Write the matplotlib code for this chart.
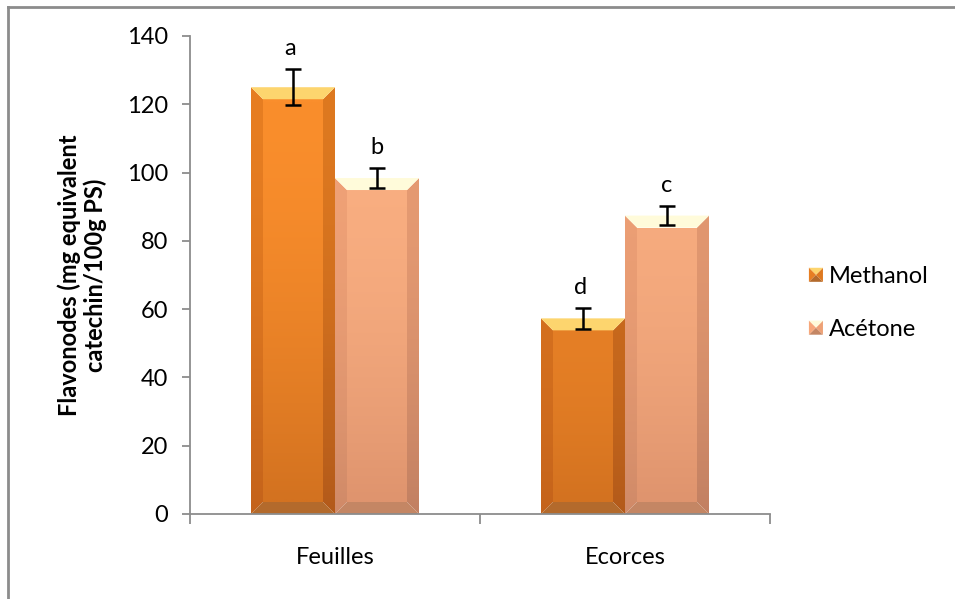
import numpy as np
import matplotlib.pyplot as plt
from matplotlib.patches import Polygon
from matplotlib.legend_handler import HandlerBase
from matplotlib.colors import to_rgb
from matplotlib.lines import Line2D

# Data
categories = ['Feuilles', 'Ecorces']
series_names = ['Methanol', 'Acétone']
methanol = [125.0, 57.3]
methanol_err = [5.3, 3.0]
acetone = [98.4, 87.4]
acetone_err = [3.0, 2.9]
letters_methanol = ['a', 'd']
letters_acetone = ['b', 'c']

# Bevel colour sets: face top/bottom, side strips top/bottom, top bevel, bottom bevel
STYLES = {
    'Methanol': dict(face_top='#FA8E2C', face_bot='#D37220', left_top='#E77E22', left_bot='#C4631B',
                     right_top='#DE7920', right_bot='#B35A1A', top='#FDD56E', bottom='#B36A2C'),
    'Acétone': dict(face_top='#FFB485', face_bot='#DF946E', left_top='#F7A77A', left_bot='#D08A68',
                    right_top='#EEA176', right_bot='#C28062', top='#FFFBDA', bottom='#C48664'),
}

plt.rcParams['font.family'] = ['Lato', 'DejaVu Sans']


def gradient_poly(ax, verts, c_top, c_bot, zorder=2):
    """Fill a polygon with a vertical gradient."""
    verts = np.asarray(verts)
    poly = Polygon(verts, closed=True, facecolor='none', edgecolor='none', transform=ax.transData)
    ax.add_patch(poly)
    t = np.linspace(0, 1, 64)[:, None] ** 1.6
    top = np.array(to_rgb(c_top))
    bot = np.array(to_rgb(c_bot))
    img = (1 - t)[:, :, None] * top + t[:, :, None] * bot
    img = np.repeat(img, 2, axis=1)
    x0, x1 = verts[:, 0].min(), verts[:, 0].max()
    y0, y1 = verts[:, 1].min(), verts[:, 1].max()
    im = ax.imshow(img, extent=[x0, x1, y0, y1], origin='upper', aspect='auto',
                   interpolation='bilinear', zorder=zorder)
    im.set_clip_path(poly)


def bevel_bar(ax, xc, width, height, style, bx, by):
    s = STYLES[style]
    x0, x1 = xc - width / 2, xc + width / 2
    f = min(1.0, height / 125.0)
    mix = lambda a, b: tuple((1 - f) * np.array(to_rgb(a)) + f * np.array(to_rgb(b)))
    # main face
    gradient_poly(ax, [(x0 + bx, by), (x1 - bx, by), (x1 - bx, height - by), (x0 + bx, height - by)],
                  mix(s['face_bot'], s['face_top']), s['face_bot'])
    # sides
    gradient_poly(ax, [(x0, 0), (x0 + bx, by), (x0 + bx, height - by), (x0, height)],
                  mix(s['left_bot'], s['left_top']), s['left_bot'])
    gradient_poly(ax, [(x1, 0), (x1 - bx, by), (x1 - bx, height - by), (x1, height)],
                  mix(s['right_bot'], s['right_top']), s['right_bot'])
    # top and bottom bevels
    ax.add_patch(Polygon([(x0, height), (x1, height), (x1 - bx, height - by), (x0 + bx, height - by)],
                         closed=True, facecolor=s['top'], edgecolor='none', zorder=2))
    ax.add_patch(Polygon([(x0, 0), (x1, 0), (x1 - bx, by), (x0 + bx, by)],
                         closed=True, facecolor=s['bottom'], edgecolor='none', zorder=2))


class PyramidHandler(HandlerBase):
    def __init__(self, style):
        super().__init__()
        self.style = style

    def create_artists(self, legend, orig_handle, xdescent, ydescent, width, height, fontsize, trans):
        s = STYLES[self.style]
        size = height * 0.85
        x0 = xdescent + width - size
        y0 = -ydescent + (height - size) / 2
        cx, cy = x0 + size / 2, y0 + size / 2
        corners = [(x0, y0), (x0 + size, y0), (x0 + size, y0 + size), (x0, y0 + size)]
        cols = [s['bottom'], s['right_top'], s['top'], s['left_top']]
        arts = []
        for i in range(4):
            p = Polygon([corners[i], corners[(i + 1) % 4], (cx, cy)], closed=True,
                        facecolor=cols[i], edgecolor='none', transform=trans)
            arts.append(p)
        return arts


fig = plt.figure(figsize=(9.55, 5.99), dpi=100)
ax = fig.add_axes([190 / 955, 1 - 514 / 599, 580 / 955, 478 / 599])
ax.set_xlim(-0.5, 1.5)
ax.set_ylim(0, 140)

# bevel size in data units (about 12 px)
px_x = 580 / 2.0
px_y = 478 / 140.0
bx = 12 / px_x
by = 12 / px_y

width = 84 / px_x
x = np.arange(len(categories))
for i in range(len(categories)):
    bevel_bar(ax, x[i] - width / 2, width, methanol[i], 'Methanol', bx, by)
    bevel_bar(ax, x[i] + width / 2, width, acetone[i], 'Acétone', bx, by)

ax.errorbar(x - width / 2, methanol, yerr=methanol_err, fmt='none', ecolor='black',
            elinewidth=1.8, capsize=5.5, capthick=1.8, zorder=5)
ax.errorbar(x + width / 2, acetone, yerr=acetone_err, fmt='none', ecolor='black',
            elinewidth=1.8, capsize=5.5, capthick=1.8, zorder=5)

for i in range(len(categories)):
    ax.annotate(letters_methanol[i], (x[i] - width / 2, methanol[i] + methanol_err[i]),
                xytext=(-2, 7), textcoords='offset points', ha='center', va='bottom', fontsize=17)
    ax.annotate(letters_acetone[i], (x[i] + width / 2, acetone[i] + acetone_err[i]),
                xytext=(0, 7), textcoords='offset points', ha='center', va='bottom', fontsize=17)

# axes styling
for side in ['top', 'right']:
    ax.spines[side].set_visible(False)
for side in ['left', 'bottom']:
    ax.spines[side].set_color('#8c8c8c')
    ax.spines[side].set_linewidth(1.3)
ax.set_yticks(np.arange(0, 141, 20))
ax.tick_params(axis='y', length=6, width=1.3, color='#8c8c8c', labelsize=17, pad=10)
ax.set_xticks(x)
ax.set_xticklabels(categories)
ax.set_xticks([-0.5, 0.5, 1.5], minor=True)
ax.tick_params(axis='x', which='major', length=0, labelsize=17, pad=24)
ax.tick_params(axis='x', which='minor', length=7, width=1.3, color='#8c8c8c')
ax.set_ylabel('Flavonodes (mg equivalent\ncatechin/100g PS)', fontsize=17, fontweight='bold',
              labelpad=14, linespacing=1.15)

handles = [Line2D([], []), Line2D([], [])]
ax.legend(handles, series_names, loc='center left', frameon=False, fontsize=17,
          bbox_to_anchor=(784 / 955, 1 - 303 / 599), bbox_transform=fig.transFigure,
          handler_map={handles[0]: PyramidHandler('Methanol'), handles[1]: PyramidHandler('Acétone')},
          handlelength=0.75, handletextpad=0.25, labelspacing=1.35)

# outer chart frame (only left and top edges visible)
fig.add_artist(Line2D([8 / 955, 1], [1 - 7 / 599, 1 - 7 / 599], color='#8c8c8c', lw=2,
                      transform=fig.transFigure))
fig.add_artist(Line2D([8 / 955, 8 / 955], [0, 1 - 7 / 599], color='#8c8c8c', lw=2,
                      transform=fig.transFigure))

fig.savefig('out.png', dpi=100)
